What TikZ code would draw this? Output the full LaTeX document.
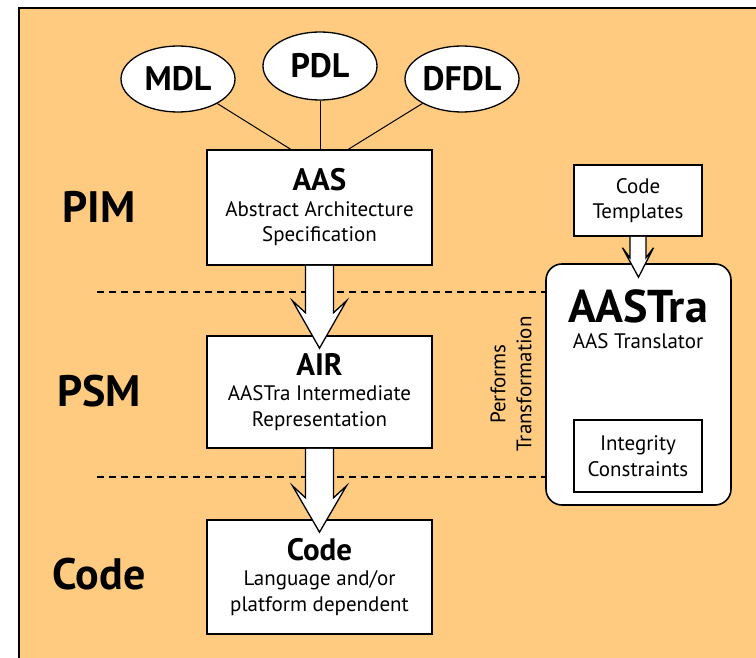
\documentclass[tikz,border=0pt]{standalone}
\usepackage{fontspec}
\setmainfont{PT Sans}
\usetikzlibrary{shapes.geometric,calc}
\definecolor{bgorange}{RGB}{254,203,128}
\tikzset{
  box/.style={draw=black,line width=1.6pt,fill=white,minimum width=225pt,align=center,inner sep=0pt,
    font=\fontsize{21}{25.5}\selectfont},
  smallbox/.style={draw=black,line width=1.6pt,fill=white,minimum width=128pt,align=center,inner sep=0pt,
    font=\fontsize{21}{25.5}\selectfont},
  lang/.style={draw=black,line width=1.3pt,fill=white,ellipse,minimum width=114pt,minimum height=66pt,inner sep=0pt,
    font=\fontsize{34}{34}\selectfont\bfseries},
  level/.style={font=\fontsize{44}{44}\selectfont\bfseries,inner sep=0pt},
  blockarrow/.style={draw=black,line width=1.3pt,fill=white,line join=miter},
  sep/.style={draw=black,line width=1.3pt,dash pattern=on 7pt off 5pt},
  link/.style={draw=black,line width=1pt}
}
\newcommand{\ttl}[1]{{\fontsize{31}{31}\selectfont\bfseries #1}}
\begin{document}
\begin{tikzpicture}[x=1pt,y=-1pt]
\useasboundingbox (0,0) rectangle (756,658);
\fill[bgorange] (19,8) rectangle (756,658);
\draw[line width=1.5pt] (19,658) -- (19,8) -- (756,8);

% dashed separators
\coordinate (d1a) at (97,292);
\coordinate (d2a) at (97,477);

% main boxes
\node[box,minimum height=115pt] (aas) at (319.5,207.5) {\ttl{AAS}\\Abstract Architecture\\Specification};
\node[box,minimum height=112pt] (air) at (319.5,392) {\ttl{AIR}\\AASTra Intermediate\\Representation};
\node[box,minimum height=114pt] (code) at (319.5,577) {\ttl{Code}\\Language and/or\\platform dependent};

% languages
\node[lang] (mdl) at (178,79) {MDL};
\node[lang,minimum height=68pt] (pdl) at (320,66) {PDL};
\node[lang] (dfdl) at (462,79) {DFDL};
\draw[link] (mdl) -- ($(aas.north)+(-29,0)$);
\draw[link] (pdl) -- (pdl |- aas.north);
\draw[link] (dfdl) -- ($(aas.north)+(29,0)$);

% AASTra
\node[draw=black,line width=1.6pt,fill=white,rounded corners=16pt,minimum width=185pt,minimum height=241pt,inner sep=0pt] (aastra) at (638.5,384.5) {};
\node[inner sep=0pt,anchor=base,font=\fontsize{46}{46}\selectfont\bfseries] (astitle) at (638,322) {AASTra};
\node[inner sep=0pt,anchor=base,font=\fontsize{21}{21}\selectfont] (astsub) at (638,348) {AAS Translator};
\node[smallbox,minimum height=72pt] (integ) at (638,456) {Integrity\\Constraints};
\node[smallbox,minimum height=71pt] (tmpl) at (638,200.5) {Code\\Templates};

\draw[sep] (d1a) -- (d1a -| aastra.west);
\draw[sep] (d2a) -- (d2a -| aastra.west);

\node[rotate=90,align=center,inner sep=0pt,font=\fontsize{21}{26}\selectfont] (perf) at (511,384) {Performs\\Transformation};

% level labels
\node[level] (pim) at (99,207) {PIM};
\node[level] (psm) at (99,391) {PSM};
\node[level] (lcode) at (99,574) {Code};

% block arrows
\filldraw[blockarrow] ($(aas.south)+(-14,0)$) -- ++(0,47) -- ++(-13,-12) -- ($(air.north)+(0,13)$) -- ($(aas.south)+(27,35)$) -- ($(aas.south)+(14,47)$) -- ($(aas.south)+(14,0)$);
\filldraw[blockarrow] ($(air.south)+(-14,0)$) -- ++(0,49) -- ++(-13,-12) -- ($(code.north)+(0,13)$) -- ($(air.south)+(27,37)$) -- ($(air.south)+(14,49)$) -- ($(air.south)+(14,0)$);
\filldraw[blockarrow] ($(tmpl.south)+(-8,0)$) -- ++(0,21) -- ++(-7.5,-10) -- ($(aastra.north)+(0,14)$) -- ($(tmpl.south)+(15.5,11)$) -- ($(tmpl.south)+(8,21)$) -- ($(tmpl.south)+(8,0)$);
\end{tikzpicture}
\end{document}
